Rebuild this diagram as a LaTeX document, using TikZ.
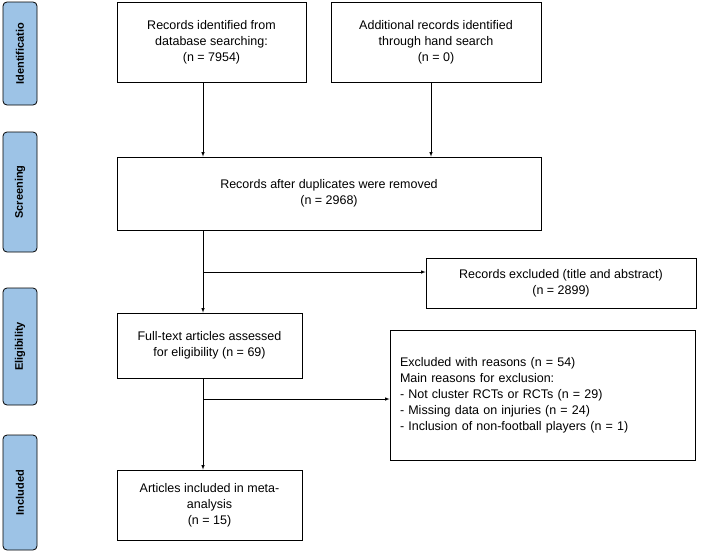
\documentclass[tikz,border=0pt]{standalone}
\usepackage{fontspec}
\setmainfont{Liberation Sans}
\begin{document}
\begin{tikzpicture}[x=1pt,y=-1pt,
  box/.style={draw,line width=0.8pt,align=center,inner sep=0pt,font=\fontsize{12.5}{16}\selectfont},
  side/.style={draw,line width=0.8pt,rounded corners=4pt,fill={rgb,255:red,157;green,195;blue,230},inner sep=0pt},
  arr/.style={-latex,line width=0.6pt}]
\useasboundingbox (0,0) rectangle (708,554);
\foreach \n/\t/\a/\b in {s1/Identificatio/2/105,s2/Screening/132/252,s3/Eligibility/288/405,s4/Included/435/550}{
  \node[side,minimum width=34pt,minimum height={\b-\a}] (\n) at (20,{(\a+\b)/2}) {};
  \node[rotate=90,font=\fontsize{11}{13}\selectfont\bfseries] (\n t) at (\n.center) {\t};
}
\node[box,minimum width=189,minimum height=80] (A) at (211.5,42) {Records identified from\\database searching:\\(n = 7954)};
\node[box,minimum width=210,minimum height=80] (B) at (436,42) {Additional records identified\\through hand search\\(n = 0)};
\node[box,minimum width=424,minimum height=73] (C) at (329,193.5) {Records after duplicates were removed\\(n = 2968)};
\node[box,minimum width=270,minimum height=50] (D) at (561,283) {Records excluded (title and abstract)\\(n = 2899)};
\node[box,minimum width=185,minimum height=65] (E) at (209.5,345.5) {Full-text articles assessed\\for eligibility (n = 69)};
\node[box,minimum width=305,minimum height=130,align=left,text width=285] (F) at (542.5,395) {Excluded with reasons (n = 54)\\Main reasons for exclusion:\\- Not cluster RCTs or RCTs (n = 29)\\- Missing data on injuries (n = 24)\\- Inclusion of non-football players (n = 1)};
\node[box,minimum width=185,minimum height=70] (G) at (209.5,505) {Articles included in meta-\\analysis\\(n = 15)};
\coordinate (c1) at (203,272);
\coordinate (c2) at (203,399);
\draw[arr] (A.south -| c1) -- (C.north -| c1);
\draw[arr] (B.south -| 431,0) -- (C.north -| 431,0);
\draw[arr] (C.south -| c1) -- (E.north -| c1);
\draw[arr] (c1) -- (D.west |- c1);
\draw[arr] (E.south -| c2) -- (G.north -| c2);
\draw[arr] (c2) -- (F.west |- c2);
\end{tikzpicture}
\end{document}
